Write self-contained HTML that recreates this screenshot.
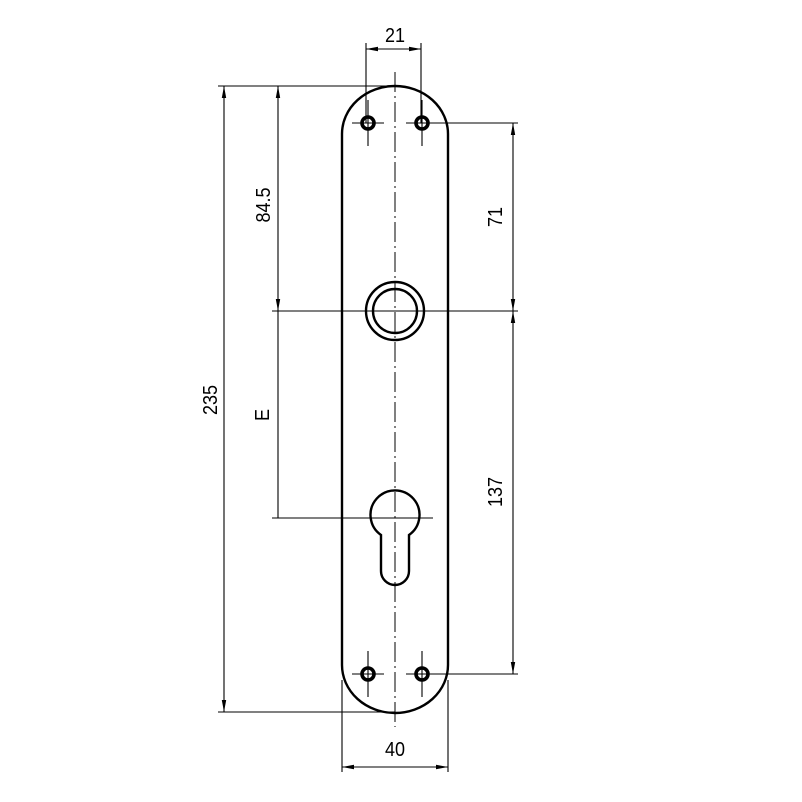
<!DOCTYPE html>
<html><head><meta charset="utf-8"><style>
html,body{margin:0;padding:0;background:#fff;}
svg{display:block;}
text{font-family:"Liberation Sans","DejaVu Sans",sans-serif;font-size:20px;fill:#000;font-weight:normal;}
</style></head><body>
<svg width="802" height="802" viewBox="0 0 802 802" xmlns="http://www.w3.org/2000/svg">
<defs>
<marker id="a" viewBox="0 0 12 6" refX="12" refY="3" markerWidth="12" markerHeight="6" orient="auto-start-reverse" markerUnits="userSpaceOnUse">
<path d="M0,0.8 L12,3 L0,5.2 z" fill="#000"/>
</marker>
</defs>
<g stroke="#000" stroke-width="1.1" fill="none">
<line x1="395" y1="72" x2="395" y2="727" stroke-dasharray="20,4,2,4" stroke-width="1"/>
<line x1="368" y1="100" x2="368" y2="146"/><line x1="422" y1="100" x2="422" y2="146"/>
<line x1="352" y1="123" x2="384" y2="123"/><line x1="406" y1="123" x2="440" y2="123"/>
<line x1="368" y1="651" x2="368" y2="697"/><line x1="422" y1="651" x2="422" y2="697"/>
<line x1="352" y1="674" x2="384" y2="674"/><line x1="406" y1="674" x2="440" y2="674"/>
<line x1="366" y1="43" x2="366" y2="123"/><line x1="421" y1="43" x2="421" y2="123"/>
<line x1="218" y1="86" x2="395" y2="86"/>
<line x1="218" y1="712" x2="395" y2="712"/>
<line x1="272" y1="311" x2="518" y2="311"/>
<line x1="272" y1="518" x2="433" y2="518"/>
<line x1="422" y1="123" x2="518" y2="123"/>
<line x1="422" y1="674" x2="518" y2="674"/>
<line x1="342" y1="680" x2="342" y2="772"/><line x1="448" y1="680" x2="448" y2="772"/>
<line x1="366" y1="49" x2="421" y2="49" marker-start="url(#a)" marker-end="url(#a)"/>
<line x1="224" y1="86" x2="224" y2="712" marker-start="url(#a)" marker-end="url(#a)"/>
<line x1="278" y1="86" x2="278" y2="311" marker-start="url(#a)" marker-end="url(#a)"/>
<line x1="278" y1="311" x2="278" y2="518"/>
<line x1="513" y1="123" x2="513" y2="311" marker-start="url(#a)" marker-end="url(#a)"/>
<line x1="513" y1="311" x2="513" y2="674" marker-start="url(#a)" marker-end="url(#a)"/>
<line x1="342" y1="767" x2="448" y2="767" marker-start="url(#a)" marker-end="url(#a)"/>
</g>
<g stroke="#000" fill="none">
<path d="M342,134 A53,48 0 0 1 448,134 L448,665 A53,48 0 0 1 342,665 Z" stroke-width="2.4"/>
<circle cx="368" cy="123" r="6" stroke-width="3.6"/>
<circle cx="422" cy="123" r="6" stroke-width="3.6"/>
<circle cx="368" cy="674" r="6" stroke-width="3.6"/>
<circle cx="422" cy="674" r="6" stroke-width="3.6"/>
<circle cx="395" cy="311" r="29" stroke-width="2.4"/>
<circle cx="395" cy="311" r="22" stroke-width="2.4"/>
<path d="M381,535 A24.5,24.5 0 1 1 409,535 L409,571 A14,14 0 0 1 381,571 Z" stroke-width="2.4"/>
</g>
<text transform="translate(395,42) scale(0.9,1)" text-anchor="middle">21</text>
<text transform="translate(395,756) scale(0.9,1)" text-anchor="middle">40</text>
<text transform="translate(217,400) rotate(-90) scale(0.9,1)" text-anchor="middle">235</text>
<text transform="translate(270,205) rotate(-90) scale(0.9,1)" text-anchor="middle">84.5</text>
<text transform="translate(269,415) rotate(-90) scale(0.9,1)" text-anchor="middle">E</text>
<text transform="translate(502,217) rotate(-90) scale(0.9,1)" text-anchor="middle">71</text>
<text transform="translate(502,492) rotate(-90) scale(0.9,1)" text-anchor="middle">137</text>
</svg>
</body></html>
